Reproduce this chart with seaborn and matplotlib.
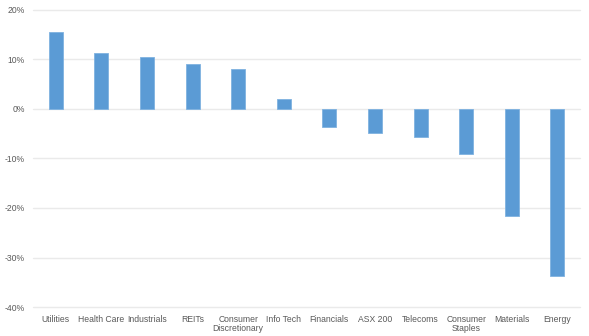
import matplotlib
matplotlib.use("Agg")
import matplotlib.pyplot as plt
import seaborn as sns
import pandas as pd
from matplotlib.ticker import FuncFormatter

categories = ["Utilities", "Health Care", "Industrials", "REITs", "Consumer\nDiscretionary",
              "Info Tech", "Financials", "ASX 200", "Telecoms", "Consumer\nStaples",
              "Materials", "Energy"]
values = [15.5, 11.3, 10.4, 9.0, 8.1, 2.0, -3.7, -4.8, -5.7, -9.1, -21.6, -33.7]
yticks = [-40, -30, -20, -10, 0, 10, 20]

df = pd.DataFrame({"sector": categories, "ret": values})

sns.set_theme(style="white")
plt.rcParams['font.family'] = ['Liberation Sans', 'DejaVu Sans']

fig = plt.figure(figsize=(5.89, 3.36), dpi=100)
ax = fig.add_axes([0.056, 0.086, 0.929, 0.885])

sns.barplot(data=df, x="sector", y="ret", ax=ax, color="#5B9BD5", width=0.31,
            saturation=1, edgecolor="#7FB2E0", linewidth=0.6, zorder=3)

ax.set_ylim(-40, 20)
ax.set_yticks(yticks)
ax.yaxis.set_major_formatter(FuncFormatter(lambda v, p: f"{int(v)}%"))
ax.set_xlim(-0.5, len(categories) - 0.5)
for y in yticks:
    ax.axhline(y, color="#EAEAEA", linewidth=1.0, zorder=0, clip_on=False)
for s in ax.spines.values():
    s.set_visible(False)
ax.set_xlabel("")
ax.set_ylabel("")
ax.tick_params(axis="both", length=0, labelsize=6.2, labelcolor="#595959")
ax.tick_params(axis="x", pad=6)
ax.tick_params(axis="y", pad=6)
for lbl in ax.get_xticklabels():
    lbl.set_linespacing(1.0)

fig.savefig("out.png", dpi=100)
